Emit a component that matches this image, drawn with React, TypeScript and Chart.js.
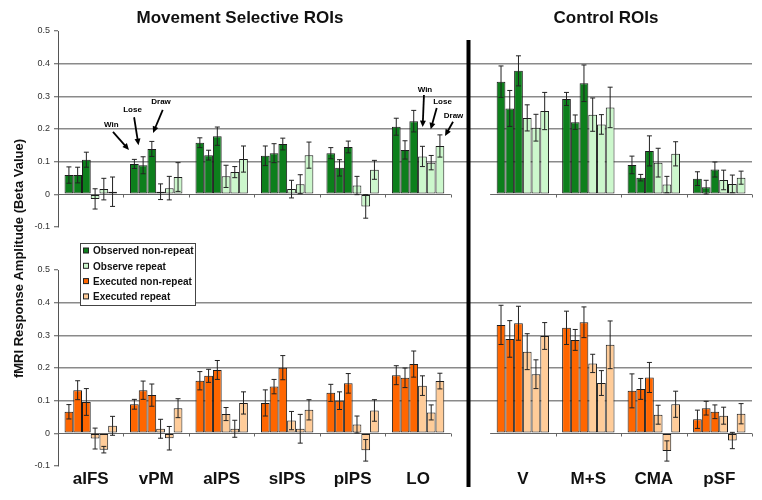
import React, { useEffect, useRef } from 'react';
import { Chart, registerables } from 'chart.js';

Chart.register(...registerables);

// ---------- data ----------
const ROIS = ['aIFS', 'vPM', 'aIPS', 'sIPS', 'pIPS', 'LO', 'V', 'M+S', 'CMA', 'pSF'];
const LEFT_COUNT = 6; // Movement selective ROIs
const GAP = 0.6; // gap (in category widths) between the two ROI groups

const Y_TICKS = [-0.1, 0, 0.1, 0.2, 0.3, 0.4, 0.5];
const Y_TICK_LABELS = ['-0.1', '0', '0.1', '0.2', '0.3', '0.4', '0.5'];

// Observed (top panel)
const obsNonRepWin = [0.059, 0.093, 0.158, 0.118, 0.126, 0.207, 0.345, 0.292, 0.09, 0.048];
const obsNonRepLose = [0.059, 0.089, 0.12, 0.126, 0.081, 0.136, 0.263, 0.221, 0.051, 0.022];
const obsNonRepDraw = [0.106, 0.139, 0.178, 0.154, 0.145, 0.224, 0.378, 0.34, 0.133, 0.076];
const obsRepWin = [-0.014, 0.008, 0.055, 0.016, 0.027, 0.116, 0.234, 0.244, 0.097, 0.044];
const obsRepLose = [0.016, 0.019, 0.068, 0.031, -0.037, 0.097, 0.204, 0.214, 0.03, 0.032];
const obsRepDraw = [0.008, 0.053, 0.108, 0.12, 0.075, 0.148, 0.255, 0.266, 0.124, 0.051];

const obsNonRepWinErr = [0.025, 0.014, 0.015, 0.03, 0.017, 0.026, 0.048, 0.02, 0.027, 0.021];
const obsNonRepLoseErr = [0.024, 0.026, 0.015, 0.029, 0.025, 0.028, 0.055, 0.022, 0.01, 0.021];
const obsNonRepDrawErr = [0.023, 0.023, 0.028, 0.018, 0.018, 0.033, 0.046, 0.056, 0.046, 0.023];
const obsRepWinErr = [0.031, 0.024, 0.034, 0.027, 0.028, 0.031, 0.04, 0.051, 0.044, 0.03];
const obsRepLoseErr = [0.033, 0.036, 0.017, 0.029, 0.036, 0.022, 0.041, 0.03, 0.025, 0.027];
const obsRepDrawErr = [0.045, 0.044, 0.04, 0.04, 0.029, 0.034, 0.057, 0.062, 0.037, 0.02];

// Executed (bottom panel)
const exeNonRepWin = [0.066, 0.089, 0.161, 0.093, 0.124, 0.178, 0.332, 0.323, 0.13, 0.043];
const exeNonRepLose = [0.132, 0.132, 0.176, 0.143, 0.1, 0.17, 0.289, 0.286, 0.136, 0.077];
const exeNonRepDraw = [0.096, 0.117, 0.194, 0.201, 0.153, 0.212, 0.337, 0.34, 0.171, 0.066];
const exeRepWin = [-0.016, 0.014, 0.059, 0.039, 0.027, 0.146, 0.25, 0.214, 0.057, 0.054];
const exeRepLose = [-0.05, -0.015, 0.014, 0.014, -0.052, 0.064, 0.181, 0.154, -0.054, -0.022];
const exeRepDraw = [0.023, 0.077, 0.093, 0.072, 0.07, 0.16, 0.298, 0.271, 0.089, 0.06];

const exeNonRepWinErr = [0.022, 0.015, 0.028, 0.04, 0.026, 0.029, 0.06, 0.051, 0.052, 0.028];
const exeNonRepLoseErr = [0.029, 0.028, 0.02, 0.022, 0.027, 0.03, 0.056, 0.032, 0.032, 0.021];
const exeNonRepDrawErr = [0.041, 0.034, 0.029, 0.037, 0.03, 0.04, 0.052, 0.047, 0.046, 0.021];
const exeRepWinErr = [0.032, 0.029, 0.02, 0.028, 0.026, 0.03, 0.055, 0.028, 0.029, 0.026];
const exeRepLoseErr = [0.01, 0.036, 0.026, 0.044, 0.033, 0.023, 0.044, 0.038, 0.031, 0.025];
const exeRepDrawErr = [0.029, 0.029, 0.034, 0.031, 0.033, 0.024, 0.041, 0.073, 0.04, 0.031];

const LEGEND_LABELS = ['Observed non-repeat', 'Observe repeat', 'Executed non-repeat', 'Executed repeat'];

// ---------- styles ----------
const FONT = "'Liberation Sans', Arial, Helvetica, sans-serif";
const DARK_GREEN = '#0d7f1c';
const LIGHT_GREEN = '#ccf7cc';
const ORANGE = '#ff6600';
const LIGHT_ORANGE = '#ffcc99';
const LEGEND_COLORS = [DARK_GREEN, LIGHT_GREEN, ORANGE, LIGHT_ORANGE];

const catPos = (i: number) => (i < LEFT_COUNT ? i + 0.5 : i + GAP + 0.5);
const X_MAX = ROIS.length + GAP;

function makeDatasets(series: number[][], errs: number[][], dark: string, light: string) {
  const names = ['non-repeat Win', 'non-repeat Lose', 'non-repeat Draw', 'repeat Win', 'repeat Lose', 'repeat Draw'];
  return series.map((vals, k) => ({
    label: names[k],
    data: vals.map((v, i) => ({ x: catPos(i), y: v })),
    errors: errs[k],
    backgroundColor: k < 3 ? dark : light,
    borderColor: '#1c1c1c',
    borderWidth: 1,
    borderSkipped: false,
    categoryPercentage: 0.8,
    barPercentage: 1.0,
  }));
}

function xScale(show: boolean) {
  return {
    type: 'linear',
    min: 0,
    max: X_MAX,
    offset: false,
    display: show,
    afterBuildTicks: (s: any) => {
      s.ticks = ROIS.map((_, i) => ({ value: catPos(i) }));
    },
    ticks: {
      autoSkip: false,
      maxRotation: 0,
      minRotation: 0,
      padding: 3,
      color: '#111',
      font: { family: FONT, size: 17, weight: 'bold' },
      callback: (_v: any, i: number) => ROIS[i],
    },
    grid: { display: false, drawTicks: false },
    border: { display: false },
    afterFit: (s: any) => {
      s.height = show ? 30 : 0;
    },
  };
}

function yScale() {
  return {
    type: 'linear',
    min: -0.1,
    max: 0.5,
    afterBuildTicks: (s: any) => {
      s.ticks = Y_TICKS.map((v) => ({ value: v }));
    },
    ticks: {
      padding: 4,
      color: '#333',
      font: { family: FONT, size: 9 },
      callback: (_v: any, i: number) => Y_TICK_LABELS[i],
    },
    grid: {
      color: (c: any) => {
        const v = c.tick ? c.tick.value : 0;
        return v > 0.05 && v < 0.45 ? '#8a8a8a' : 'rgba(0,0,0,0)';
      },
      lineWidth: 1.5,
      drawTicks: true,
      tickLength: 4,
      tickColor: '#555',
      tickWidth: 1,
    },
    border: { display: true, color: '#555', width: 1 },
    afterFit: (s: any) => {
      s.width = 58;
    },
  };
}

const errorBarPlugin = {
  id: 'errorBars',
  afterDatasetsDraw(chart: any) {
    const ctx = chart.ctx;
    const y = chart.scales.y;
    ctx.save();
    ctx.strokeStyle = '#222';
    ctx.lineWidth = 1;
    chart.data.datasets.forEach((ds: any, di: number) => {
      const meta = chart.getDatasetMeta(di);
      meta.data.forEach((el: any, i: number) => {
        const v = ds.data[i].y;
        const e = ds.errors[i];
        const yt = y.getPixelForValue(v + e);
        const yb = y.getPixelForValue(v - e);
        const x = el.x;
        ctx.beginPath();
        ctx.moveTo(x, yt);
        ctx.lineTo(x, yb);
        ctx.moveTo(x - 2.5, yt);
        ctx.lineTo(x + 2.5, yt);
        ctx.moveTo(x - 2.5, yb);
        ctx.lineTo(x + 2.5, yb);
        ctx.stroke();
      });
    });
    ctx.restore();
  },
};

const baselinePlugin = {
  id: 'baselines',
  beforeDatasetsDraw(chart: any) {
    const ctx = chart.ctx;
    const x = chart.scales.x;
    const y = chart.scales.y;
    const y0 = Math.round(y.getPixelForValue(0)) + 0.5;
    ctx.save();
    ctx.strokeStyle = '#666';
    ctx.lineWidth = 1;
    const segs = [
      [0, LEFT_COUNT],
      [LEFT_COUNT + GAP, X_MAX],
    ];
    segs.forEach(([a, b]) => {
      ctx.beginPath();
      ctx.moveTo(x.getPixelForValue(a), y0);
      ctx.lineTo(x.getPixelForValue(b), y0);
      for (let v = a + 1; v <= b + 1e-6; v += 1) {
        const px = Math.round(x.getPixelForValue(v)) + 0.5;
        ctx.moveTo(px, y0);
        ctx.lineTo(px, y0 + 3);
      }
      ctx.stroke();
    });
    ctx.restore();
  },
};

const ANNOTATIONS = [
  { text: 'Win', ds: 0, idx: 1, head: [-5.4, -14], tail: [-21.4, -32], label: [-23, -39] },
  { text: 'Lose', ds: 1, idx: 1, head: [-4.6, -20], tail: [-9, -48], label: [-10.6, -55.7] },
  { text: 'Draw', ds: 2, idx: 1, head: [1.2, -16], tail: [10.9, -39], label: [9.2, -47] },
  { text: 'Win', ds: 3, idx: 5, head: [0.2, -29.4], tail: [1.5, -61.4], label: [2.5, -67] },
  { text: 'Lose', ds: 4, idx: 5, head: [-0.5, -33.3], tail: [5.5, -54.6], label: [11.3, -60.6] },
  { text: 'Draw', ds: 5, idx: 5, head: [5.1, -10], tail: [13.1, -24.3], label: [13.6, -30.5] },
];

function drawArrow(ctx: any, x1: number, y1: number, x2: number, y2: number) {
  const ang = Math.atan2(y2 - y1, x2 - x1);
  const c = Math.cos(ang);
  const s = Math.sin(ang);
  const L = 6.5;
  const W = 3;
  ctx.beginPath();
  ctx.moveTo(x1, y1);
  ctx.lineTo(x2 - c * L * 0.7, y2 - s * L * 0.7);
  ctx.stroke();
  ctx.beginPath();
  ctx.moveTo(x2, y2);
  ctx.lineTo(x2 - L * c - W * s, y2 - L * s + W * c);
  ctx.lineTo(x2 - L * c + W * s, y2 - L * s - W * c);
  ctx.closePath();
  ctx.fill();
}

const topDecorPlugin = {
  id: 'topDecor',
  afterDraw(chart: any) {
    const ctx = chart.ctx;
    ctx.save();
    // panel titles
    ctx.fillStyle = '#111';
    ctx.textAlign = 'center';
    ctx.textBaseline = 'middle';
    ctx.font = `bold 17px ${FONT}`;
    ctx.fillText('Movement Selective ROIs', 240, 18);
    ctx.fillText('Control ROIs', 606, 18);
    // y axis title
    ctx.save();
    ctx.translate(19, 258.5);
    ctx.rotate(-Math.PI / 2);
    ctx.font = `bold 13px ${FONT}`;
    ctx.fillText('fMRI Response Amplitude (Beta Value)', 0, 0);
    ctx.restore();
    // Win / Lose / Draw annotations
    ctx.strokeStyle = '#000';
    ctx.fillStyle = '#000';
    ctx.lineWidth = 1.8;
    ctx.font = `bold 8px ${FONT}`;
    ANNOTATIONS.forEach((a) => {
      const el = chart.getDatasetMeta(a.ds).data[a.idx];
      const bx = el.x;
      const by = el.y;
      drawArrow(ctx, bx + a.tail[0], by + a.tail[1], bx + a.head[0], by + a.head[1]);
      ctx.fillText(a.text, bx + a.label[0], by + a.label[1]);
    });
    ctx.restore();
  },
};

const bottomDecorPlugin = {
  id: 'bottomDecor',
  afterDraw(chart: any) {
    const ctx = chart.ctx;
    ctx.save();
    // separator between ROI groups
    ctx.fillStyle = '#000';
    ctx.fillRect(466.5, 40, 4, 447);
    // legend
    const lx = 80.5;
    const ly = 243.5;
    ctx.fillStyle = '#fff';
    ctx.fillRect(lx, ly, 115, 62);
    ctx.strokeStyle = '#444';
    ctx.lineWidth = 1;
    ctx.strokeRect(lx, ly, 115, 62);
    ctx.font = `bold 10px ${FONT}`;
    ctx.textAlign = 'left';
    ctx.textBaseline = 'middle';
    LEGEND_LABELS.forEach((t, i) => {
      const cy = 251 + i * 15.3;
      ctx.fillStyle = LEGEND_COLORS[i];
      ctx.fillRect(83.5, cy - 3, 5, 5);
      ctx.strokeStyle = '#222';
      ctx.strokeRect(83.5, cy - 3, 5, 5);
      ctx.fillStyle = '#111';
      ctx.fillText(t, 93, cy + 0.5);
    });
    ctx.restore();
  },
};

function makeConfig(datasets: any[], top: boolean, extra: any) {
  return {
    type: 'bar',
    data: { datasets },
    options: {
      responsive: false,
      animation: false,
      devicePixelRatio: 1,
      layout: {
        padding: top
          ? { top: 31, right: 10, bottom: 500 - 227, left: 0 }
          : { top: 270, right: 10, bottom: 500 - 466 - 30, left: 0 },
      },
      plugins: {
        legend: { display: false },
        tooltip: { enabled: false },
        title: { display: false },
      },
      scales: {
        x: xScale(!top),
        y: yScale(),
      },
    },
    plugins: [baselinePlugin, errorBarPlugin, extra],
  };
}

export default function App() {
  const topRef = useRef<HTMLCanvasElement>(null);
  const botRef = useRef<HTMLCanvasElement>(null);

  useEffect(() => {
    const topSets = makeDatasets(
      [obsNonRepWin, obsNonRepLose, obsNonRepDraw, obsRepWin, obsRepLose, obsRepDraw],
      [obsNonRepWinErr, obsNonRepLoseErr, obsNonRepDrawErr, obsRepWinErr, obsRepLoseErr, obsRepDrawErr],
      DARK_GREEN,
      LIGHT_GREEN
    );
    const botSets = makeDatasets(
      [exeNonRepWin, exeNonRepLose, exeNonRepDraw, exeRepWin, exeRepLose, exeRepDraw],
      [exeNonRepWinErr, exeNonRepLoseErr, exeNonRepDrawErr, exeRepWinErr, exeRepLoseErr, exeRepDrawErr],
      ORANGE,
      LIGHT_ORANGE
    );
    const c1 = new Chart(topRef.current as any, makeConfig(topSets, true, topDecorPlugin) as any);
    const c2 = new Chart(botRef.current as any, makeConfig(botSets, false, bottomDecorPlugin) as any);
    return () => {
      c1.destroy();
      c2.destroy();
    };
  }, []);

  return (
    <div style={{ position: 'fixed', left: 0, top: 0, width: 762, height: 500, background: '#fff' }}>
      <canvas ref={topRef} width={762} height={500} style={{ position: 'absolute', left: 0, top: 0 }} />
      <canvas ref={botRef} width={762} height={500} style={{ position: 'absolute', left: 0, top: 0 }} />
    </div>
  );
}
